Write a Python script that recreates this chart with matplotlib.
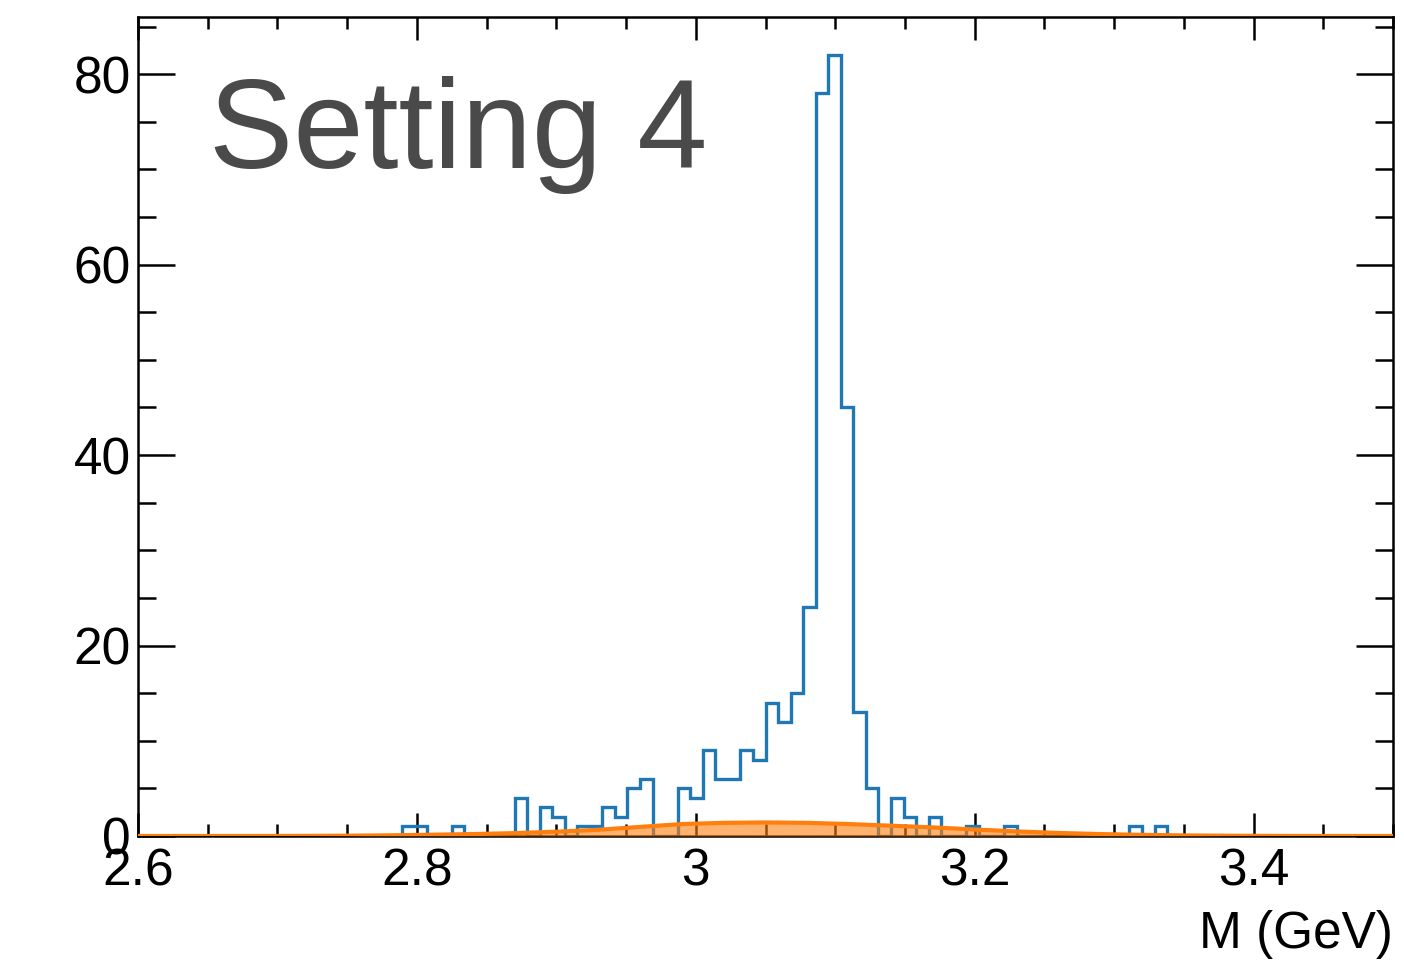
import numpy as np
import matplotlib
matplotlib.use("Agg")
import matplotlib.pyplot as plt
from matplotlib.ticker import MultipleLocator, FuncFormatter

plt.rcParams["font.family"] = ["Liberation Sans", "DejaVu Sans"]

# Histogram: 100 bins between 2.6 and 3.5 GeV
x_min, x_max, n_bins = 2.6, 3.5, 100
nonzero_bins = {
    21: 1, 22: 1, 25: 1, 30: 4, 32: 3, 33: 2, 35: 1, 36: 1, 37: 3, 38: 2,
    39: 5, 40: 6, 43: 5, 44: 4, 45: 9, 46: 6, 47: 6, 48: 9, 49: 8, 50: 14,
    51: 12, 52: 15, 53: 24, 54: 78, 55: 82, 56: 45, 57: 13, 58: 5, 60: 4,
    61: 2, 63: 2, 66: 1, 69: 1, 79: 1, 81: 1,
}
counts = np.zeros(n_bins)
for k, v in nonzero_bins.items():
    counts[k] = v

# Background shape (orange), read at 0.03 GeV steps
bkg_mass = [2.60, 2.63, 2.66, 2.69, 2.72, 2.75, 2.78, 2.81, 2.84, 2.87, 2.90,
            2.93, 2.96, 2.99, 3.02, 3.05, 3.08, 3.11, 3.14, 3.17, 3.20, 3.23,
            3.26, 3.29, 3.32, 3.35, 3.38, 3.41, 3.44, 3.47, 3.50]
bkg_vals = [0.0, 0.0, 0.0, 0.0, 0.01, 0.03, 0.07, 0.13, 0.20, 0.30, 0.45,
            0.65, 0.95, 1.25, 1.38, 1.42, 1.38, 1.25, 1.08, 0.90, 0.68, 0.48,
            0.32, 0.20, 0.12, 0.06, 0.03, 0.01, 0.0, 0.0, 0.0]

fig = plt.figure(figsize=(14.04, 9.63), dpi=100)
ax = fig.add_axes([0.0983, 0.1319, 0.8939, 0.8504])

edges = np.linspace(x_min, x_max, n_bins + 1)
ax.stairs(counts, edges, color="#1f77b4", linewidth=2.4, zorder=2)

ax.fill_between(bkg_mass, bkg_vals, 0, color="#ff7f0e", alpha=0.6,
                linewidth=0, zorder=3)
ax.plot(bkg_mass, bkg_vals, color="#ff7f0e", linewidth=3, zorder=4)

ax.set_xlim(x_min, x_max)
ax.set_ylim(0, 86)

ax.xaxis.set_major_locator(MultipleLocator(0.2))
ax.xaxis.set_minor_locator(MultipleLocator(0.05))
ax.yaxis.set_major_locator(MultipleLocator(20))
ax.yaxis.set_minor_locator(MultipleLocator(5))
ax.xaxis.set_major_formatter(FuncFormatter(lambda v, p: f"{v:g}"))

ax.tick_params(which="both", direction="in", top=True, right=True,
               labelsize=37, width=1.8, color="black")
ax.tick_params(axis="x", which="major", length=16.5, pad=8)
ax.tick_params(axis="x", which="minor", length=8.5)
ax.tick_params(axis="y", which="major", length=26.5, pad=5)
ax.tick_params(axis="y", which="minor", length=13)
for s in ax.spines.values():
    s.set_linewidth(1.8)

ax.set_xlabel("M (GeV)", fontsize=37, loc="right", labelpad=10)

ax.text(0.0565, 0.8156, "Setting 4", transform=ax.transAxes,
        fontsize=91, color="#4a4a4a", va="baseline", ha="left")

fig.savefig("out.png", dpi=100)
